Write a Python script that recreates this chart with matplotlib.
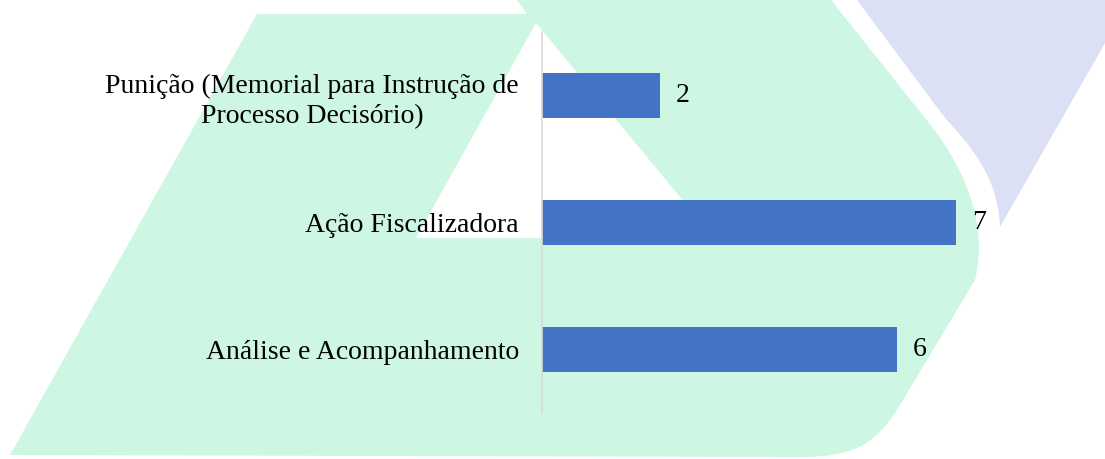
import matplotlib
matplotlib.use("Agg")
import matplotlib.pyplot as plt
from matplotlib.patches import Polygon, PathPatch
from matplotlib.path import Path

# ---- data ----
categories = ["Análise e Acompanhamento", "Ação Fiscalizadora",
              "Punição (Memorial para Instrução de\nProcesso Decisório)"]
values = [6, 7, 2]

# ---- styles ----
W, H = 1105, 459
bar_color = "#4472C4"
green = "#CDF7E3"
blue = "#DCE0F5"

plt.rcParams['font.family'] = ['Liberation Serif', 'DejaVu Serif']

fig = plt.figure(figsize=(W / 100, H / 100), dpi=100)

# background watermark shapes (in pixel coordinates of the figure)
bg = fig.add_axes([0, 0, 1, 1], zorder=0)
bg.set_xlim(0, W)
bg.set_ylim(H, 0)
bg.axis("off")

M, L, C = Path.MOVETO, Path.LINETO, Path.CURVE4
green_verts = [(257, 14), (527, 14), (517, 0), (831, 0), (925, 118),
               (960, 160), (990, 220), (975, 280),
               (900, 405),
               (875, 447), (850, 456), (805, 457),
               (10, 455), (257, 14)]
green_codes = [M, L, L, L, L, C, C, C, L, C, C, C, L, Path.CLOSEPOLY]
bg.add_patch(PathPatch(Path(green_verts, green_codes), facecolor=green, edgecolor="none"))

white_tri = [(536, 23), (416, 238), (714, 238)]
bg.add_patch(Polygon(white_tri, closed=True, facecolor="white", edgecolor="none"))

blue_verts = [(857, 0), (945, 118), (975, 150), (998, 180), (1000, 227),
              (1105, 43), (1105, 0), (857, 0)]
blue_codes = [M, L, C, C, C, L, L, Path.CLOSEPOLY]
bg.add_patch(PathPatch(Path(blue_verts, blue_codes), facecolor=blue, edgecolor="none"))

# main chart axes
left_px, right_px = 542, 542 + 473
top_px, bottom_px = 32, 413
ax = fig.add_axes([left_px / W, (H - bottom_px) / H,
                   (right_px - left_px) / W, (bottom_px - top_px) / H], zorder=1)
ax.patch.set_alpha(0)

ypos = list(range(len(categories)))
bars = ax.barh(ypos, values, height=0.355, color=bar_color, zorder=2)
ax.set_xlim(0, 8)
ax.set_ylim(-0.5, len(categories) - 0.5)

ax.set_yticks(ypos)
ax.set_yticklabels(categories, fontsize=20, linespacing=1.3)
for lbl in ax.get_yticklabels():
    lbl.set_multialignment("center")
ax.tick_params(axis="y", length=0, pad=16.5)
ax.set_xticks([])

for s in ["top", "right", "bottom"]:
    ax.spines[s].set_visible(False)
ax.spines["left"].set_color("#D9D9D9")
ax.spines["left"].set_linewidth(1.2)
ax.spines["left"].set_zorder(3)

ax.bar_label(bars, labels=[str(v) for v in values], padding=11.5, fontsize=20)

fig.savefig("out.png", dpi=100)
